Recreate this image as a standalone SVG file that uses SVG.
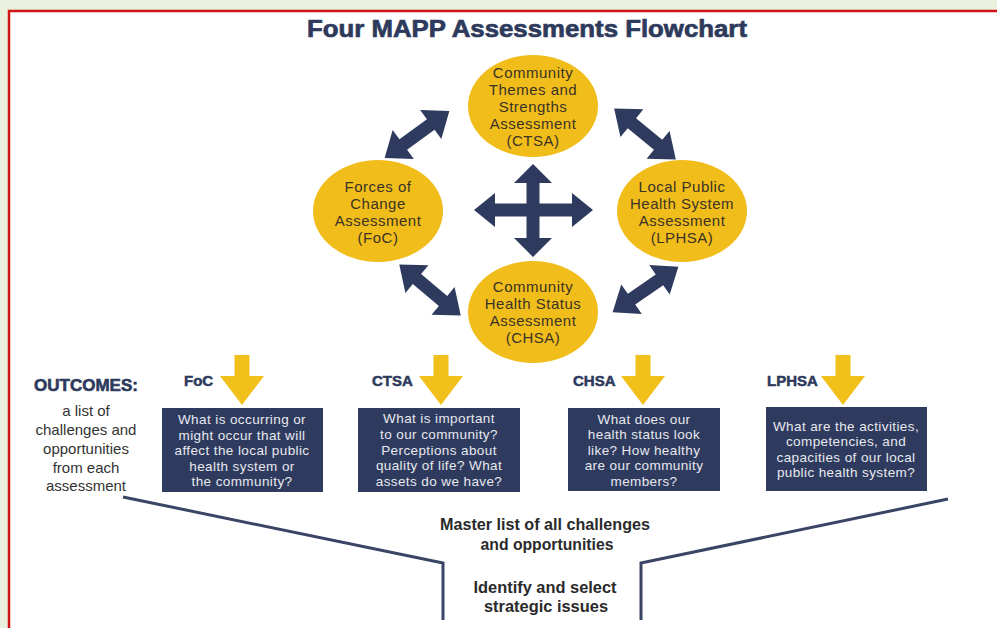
<svg xmlns="http://www.w3.org/2000/svg" xmlns:xlink="http://www.w3.org/1999/xlink" width="997" height="628" viewBox="0 0 997 628">
<style>
.title{font-family:"Liberation Sans",Arial,sans-serif;font-weight:bold;font-size:24px;fill:#2d3a5c;stroke:#2d3a5c;stroke-width:0.7px;text-anchor:middle}
.ell{fill:#f1bd1b}
.etxt{font-family:"Liberation Sans",Arial,sans-serif;font-size:15px;fill:#3a3326;text-anchor:middle;letter-spacing:0.5px}
.navy{fill:#2e3b5f}
.yarrow{fill:#f2c01a}
.lbl{font-family:"Liberation Sans",Arial,sans-serif;font-weight:bold;font-size:15px;fill:#2d3a5c;stroke:#2d3a5c;stroke-width:0.5px}
.box{fill:#2e3b5f}
.btxt{font-family:"Liberation Sans",Arial,sans-serif;font-size:13.5px;fill:#e8e8ee;text-anchor:middle;letter-spacing:0.4px}
.otxt{font-family:"Liberation Sans",Arial,sans-serif;font-size:15px;fill:#333;text-anchor:middle}
.otitle{font-family:"Liberation Sans",Arial,sans-serif;font-weight:bold;font-size:17px;fill:#2d3a5c;stroke:#2d3a5c;stroke-width:0.6px;text-anchor:middle}
.ftxt{font-family:"Liberation Sans",Arial,sans-serif;font-weight:bold;font-size:16px;fill:#2a2a2a;text-anchor:middle}
.funnel{fill:none;stroke:#3a4566;stroke-width:3}
</style>
<defs>
<path id="dbl" d="M-40,0 L-17,-18 L-17,-6.5 L17,-6.5 L17,-18 L40,0 L17,18 L17,6.5 L-17,6.5 L-17,18 Z"/>
<path id="down" d="M-7.5,355 h15 v21 h14.5 L0,405 L-22,376 h14.5 Z"/>
</defs>
<rect x="0" y="0" width="997" height="628" fill="#e9f0dd"/>
<rect x="9" y="11" width="988" height="617" fill="#ffffff"/>
<path d="M9,628 V11 H997" fill="none" stroke="#d01515" stroke-width="2.5"/>

<text class="title" x="527" y="37" textLength="440" lengthAdjust="spacingAndGlyphs">Four MAPP Assessments Flowchart</text>

<g id="ctsa">
<ellipse class="ell" cx="533" cy="106" rx="65" ry="51"/>
<text class="etxt" x="533" y="78">Community</text>
<text class="etxt" x="533" y="95">Themes and</text>
<text class="etxt" x="533" y="112">Strengths</text>
<text class="etxt" x="533" y="129">Assessment</text>
<text class="etxt" x="533" y="146">(CTSA)</text>
</g>
<g id="foc">
<ellipse class="ell" cx="378" cy="211" rx="65" ry="51"/>
<text class="etxt" x="378" y="192">Forces of</text>
<text class="etxt" x="378" y="209">Change</text>
<text class="etxt" x="378" y="226">Assessment</text>
<text class="etxt" x="378" y="243">(FoC)</text>
</g>
<g id="lphsa">
<ellipse class="ell" cx="682" cy="211" rx="65" ry="51"/>
<text class="etxt" x="682" y="192">Local Public</text>
<text class="etxt" x="682" y="209">Health System</text>
<text class="etxt" x="682" y="226">Assessment</text>
<text class="etxt" x="682" y="243">(LPHSA)</text>
</g>
<g id="chsa">
<ellipse class="ell" cx="533" cy="312" rx="65" ry="51"/>
<text class="etxt" x="533" y="292">Community</text>
<text class="etxt" x="533" y="309">Health Status</text>
<text class="etxt" x="533" y="326">Assessment</text>
<text class="etxt" x="533" y="343">(CHSA)</text>
</g>

<g id="connectors">
<use xlink:href="#dbl" class="navy" transform="translate(417,134.5) rotate(-36)"/>
<use xlink:href="#dbl" class="navy" transform="translate(645,134) rotate(39.6)"/>
<use xlink:href="#dbl" class="navy" transform="translate(430,290) rotate(39.8)"/>
<use xlink:href="#dbl" class="navy" transform="translate(645.5,289.5) rotate(-34.7)"/>
<polygon class="navy" points="533,164 552,183 539.5,183 539.5,203.5 572,203.5 572,193 593,210 572,227 572,216.5 539.5,216.5 539.5,238 552,238 533,257 514,238 526.5,238 526.5,216.5 495,216.5 495,227 474,210 495,193 495,203.5 526.5,203.5 526.5,183 514,183"/>
<use xlink:href="#down" class="yarrow" transform="translate(242,0)"/>
<use xlink:href="#down" class="yarrow" transform="translate(441,0)"/>
<use xlink:href="#down" class="yarrow" transform="translate(643,0)"/>
<use xlink:href="#down" class="yarrow" transform="translate(843,0)"/>
<path class="funnel" d="M123,497 L443,563 L443,620"/>
<path class="funnel" d="M948,499 L641,563 L641,620"/>
</g>

<g id="outcomes">
<text class="otitle" x="86" y="391">OUTCOMES:</text>
<text class="otxt" x="86" y="416">a list of</text>
<text class="otxt" x="86" y="435">challenges and</text>
<text class="otxt" x="86" y="454">opportunities</text>
<text class="otxt" x="86" y="473">from each</text>
<text class="otxt" x="86" y="491">assessment</text>
</g>

<g id="foc-out">
<text class="lbl" x="184" y="386">FoC</text>
<rect class="box" x="162" y="408" width="161" height="84"/>
<text class="btxt" x="242" y="424">What is occurring or</text>
<text class="btxt" x="242" y="440">might occur that will</text>
<text class="btxt" x="242" y="455">affect the local public</text>
<text class="btxt" x="242" y="471">health system or</text>
<text class="btxt" x="242" y="486">the community?</text>
</g>
<g id="ctsa-out">
<text class="lbl" x="372" y="386">CTSA</text>
<rect class="box" x="358" y="408" width="162" height="84"/>
<text class="btxt" x="439" y="423">What is important</text>
<text class="btxt" x="439" y="439">to our community?</text>
<text class="btxt" x="439" y="455">Perceptions about</text>
<text class="btxt" x="439" y="470">quality of life? What</text>
<text class="btxt" x="439" y="486">assets do we have?</text>
</g>
<g id="chsa-out">
<text class="lbl" x="573" y="386">CHSA</text>
<rect class="box" x="568" y="408" width="152" height="83"/>
<text class="btxt" x="644" y="424">What does our</text>
<text class="btxt" x="644" y="439">health status look</text>
<text class="btxt" x="644" y="455">like? How healthy</text>
<text class="btxt" x="644" y="470">are our community</text>
<text class="btxt" x="644" y="486">members?</text>
</g>
<g id="lphsa-out">
<text class="lbl" x="767" y="386">LPHSA</text>
<rect class="box" x="766" y="407" width="161" height="84"/>
<text class="btxt" x="846" y="431">What are the activities,</text>
<text class="btxt" x="846" y="446">competencies, and</text>
<text class="btxt" x="846" y="462">capacities of our local</text>
<text class="btxt" x="846" y="477">public health system?</text>
</g>

<g id="master">
<text class="ftxt" x="545" y="530" textLength="210" lengthAdjust="spacingAndGlyphs">Master list of all challenges</text>
<text class="ftxt" x="547" y="550" textLength="133" lengthAdjust="spacingAndGlyphs">and opportunities</text>
</g>
<g id="issues">
<text class="ftxt" x="545" y="593" textLength="143" lengthAdjust="spacingAndGlyphs">Identify and select</text>
<text class="ftxt" x="546" y="612" textLength="124" lengthAdjust="spacingAndGlyphs">strategic issues</text>
</g>
</svg>
